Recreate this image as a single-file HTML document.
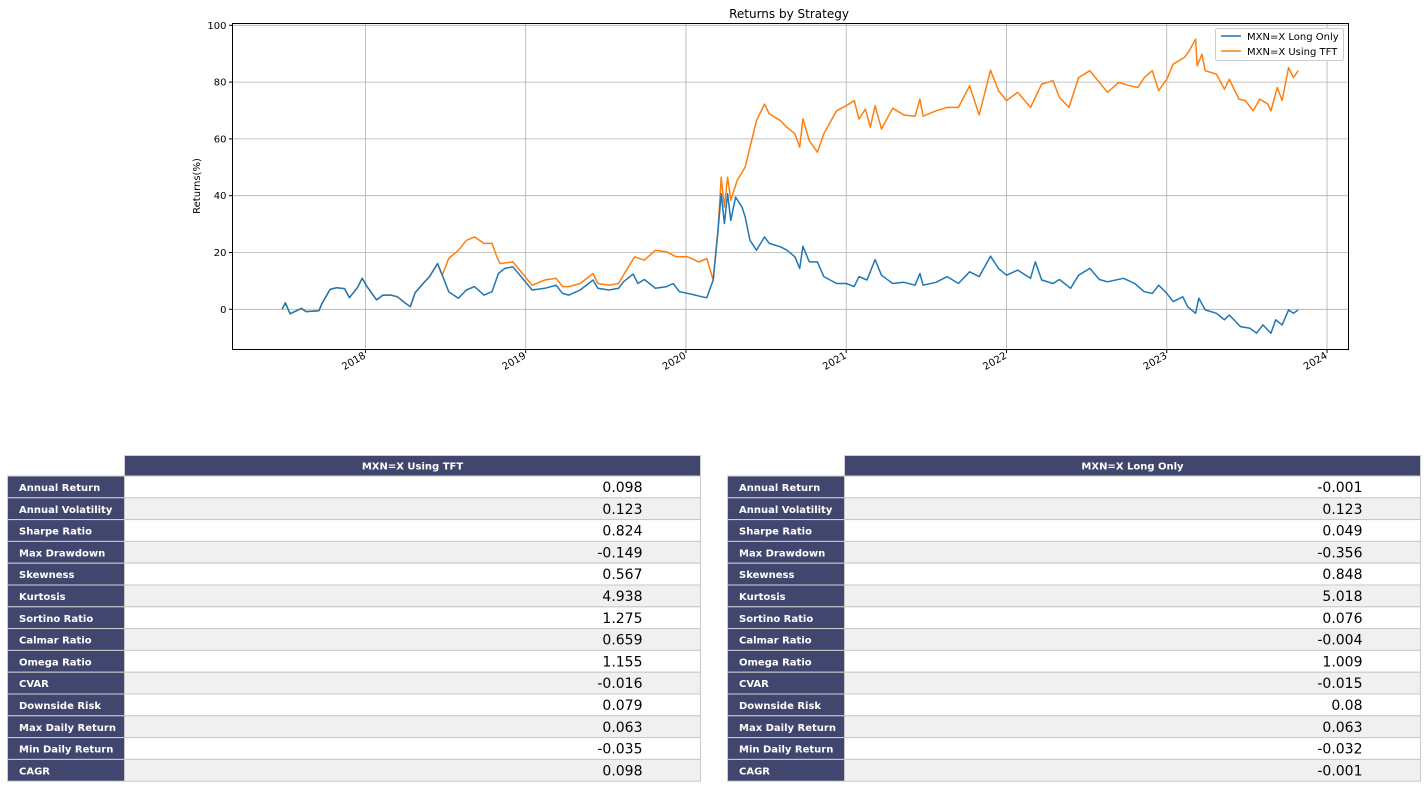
<!DOCTYPE html>
<html><head><meta charset="utf-8">
<style>
body{margin:0;background:#fff;width:1426px;height:788px;overflow:hidden;font-family:"DejaVu Sans","Liberation Sans",sans-serif;}
svg text{font-family:"DejaVu Sans","Liberation Sans",sans-serif;}
</style></head>
<body>
<svg id="chart" width="1426" height="788" xmlns="http://www.w3.org/2000/svg">
<g id="grid"></g>
<g id="series"></g>
<rect x="232.5" y="23.5" width="1116" height="326" fill="none" stroke="#000" stroke-width="1"/>
<g id="axes"></g>
<text x="789" y="18" font-size="12" text-anchor="middle">Returns by Strategy</text>
<text transform="translate(200,186) rotate(-90)" font-size="10" text-anchor="middle">Returns(%)</text>
<g>
<rect x="1215.5" y="28.5" width="128" height="32" rx="2" fill="#fff" stroke="#ccc"/>
<line x1="1221" y1="36" x2="1241" y2="36" stroke="#1f77b4" stroke-width="1.5"/>
<text x="1247" y="40" font-size="10">MXN=X Long Only</text>
<line x1="1221" y1="51" x2="1241" y2="51" stroke="#ff7f0e" stroke-width="1.5"/>
<text x="1247" y="55" font-size="10">MXN=X Using TFT</text>
</g>
<g id="tables"></g>
</svg>
<script>
// ---- chart data ----
const yTicks=[0,20,40,60,80,100];
const xTickYears=[2018,2019,2020,2021,2022,2023,2024];
const tftDates=[2017.48,2017.50,2017.53,2017.60,2017.63,2017.71,2017.73,2017.78,2017.82,2017.87,2017.90,2017.95,2017.98,2018.01,2018.07,2018.11,2018.16,2018.20,2018.25,2018.28,2018.31,2018.36,2018.40,2018.45,2018.48,2018.52,2018.58,2018.63,2018.68,2018.74,2018.79,2018.82,2018.84,2018.92,2018.98,2019.04,2019.12,2019.19,2019.23,2019.27,2019.34,2019.42,2019.45,2019.52,2019.58,2019.61,2019.68,2019.74,2019.81,2019.88,2019.94,2020.01,2020.08,2020.13,2020.17,2020.20,2020.22,2020.24,2020.26,2020.28,2020.32,2020.37,2020.40,2020.44,2020.49,2020.52,2020.59,2020.63,2020.68,2020.71,2020.73,2020.77,2020.82,2020.86,2020.94,2021.00,2021.05,2021.08,2021.12,2021.15,2021.18,2021.22,2021.29,2021.36,2021.43,2021.46,2021.48,2021.56,2021.63,2021.70,2021.77,2021.83,2021.90,2021.95,2022.00,2022.07,2022.15,2022.22,2022.29,2022.33,2022.39,2022.45,2022.52,2022.58,2022.63,2022.70,2022.77,2022.82,2022.86,2022.91,2022.95,2023.00,2023.04,2023.11,2023.14,2023.18,2023.19,2023.22,2023.24,2023.31,2023.36,2023.39,2023.45,2023.49,2023.54,2023.58,2023.63,2023.65,2023.69,2023.72,2023.76,2023.79,2023.82];
const tftValues=[0,2.3,-1.6,0.3,-0.8,-0.5,2.1,7.0,7.6,7.3,4.1,7.6,10.9,8.0,3.3,5.0,5.0,4.4,2.1,0.9,5.8,9.1,11.5,16.1,12.0,17.9,20.8,24.3,25.5,23.2,23.2,18.5,16.1,16.7,12.6,8.5,10.3,10.9,8.0,8.0,9.1,12.6,9.1,8.5,9.1,12.0,18.5,17.3,20.8,20.2,18.5,18.5,16.7,17.9,10.3,27.8,46.5,36.0,46.5,38.4,45.4,50.1,57.1,66.4,72.3,68.8,66.4,64.1,61.8,57.1,67.0,59.4,55.3,61.8,69.9,71.7,73.5,67.0,70.5,64.1,71.7,63.5,70.8,68.4,68.0,74.0,68.0,69.9,71.1,71.1,78.7,68.4,84.2,77.0,73.5,76.4,71.1,79.3,80.5,74.6,71.1,81.6,84.0,79.9,76.4,79.9,78.7,78.1,81.6,84.0,77.0,81.0,86.3,88.7,91.0,95.1,85.7,89.8,84.0,82.8,77.5,81.0,74.0,73.5,69.9,74.0,72.3,69.9,78.1,73.5,85.1,81.6,84.0];
const longDates=[2017.48,2017.50,2017.53,2017.60,2017.63,2017.71,2017.73,2017.78,2017.82,2017.87,2017.90,2017.95,2017.98,2018.01,2018.07,2018.11,2018.16,2018.20,2018.25,2018.28,2018.31,2018.36,2018.40,2018.45,2018.48,2018.52,2018.58,2018.63,2018.68,2018.74,2018.79,2018.83,2018.87,2018.92,2018.98,2019.04,2019.12,2019.19,2019.23,2019.27,2019.34,2019.42,2019.45,2019.52,2019.58,2019.61,2019.67,2019.70,2019.74,2019.81,2019.88,2019.92,2019.96,2020.03,2020.10,2020.13,2020.17,2020.20,2020.22,2020.24,2020.26,2020.28,2020.31,2020.35,2020.37,2020.40,2020.44,2020.49,2020.52,2020.59,2020.63,2020.68,2020.71,2020.73,2020.77,2020.82,2020.86,2020.94,2021.00,2021.05,2021.08,2021.13,2021.18,2021.22,2021.29,2021.36,2021.43,2021.46,2021.48,2021.56,2021.63,2021.70,2021.77,2021.83,2021.90,2021.95,2022.00,2022.07,2022.15,2022.18,2022.22,2022.29,2022.33,2022.40,2022.45,2022.52,2022.58,2022.63,2022.73,2022.80,2022.86,2022.91,2022.95,2023.00,2023.04,2023.10,2023.13,2023.18,2023.20,2023.24,2023.31,2023.36,2023.39,2023.46,2023.52,2023.56,2023.60,2023.65,2023.68,2023.72,2023.76,2023.79,2023.82];
const longValues=[0,2.3,-1.6,0.3,-0.8,-0.5,2.1,7.0,7.6,7.3,4.1,7.6,10.9,8.0,3.3,5.0,5.0,4.4,2.1,0.9,5.8,9.1,11.5,16.1,12.0,6.2,3.9,6.8,8.0,5.0,6.2,12.6,14.4,15.0,10.9,6.8,7.4,8.5,5.6,5.0,6.8,10.3,7.4,6.8,7.4,9.7,12.4,9.1,10.5,7.4,8.0,9.1,6.2,5.4,4.4,4.1,10.3,27.8,40.7,30.2,40.7,31.3,39.5,36.0,32.5,24.3,20.8,25.5,23.2,22.0,20.8,18.5,14.4,22.2,16.7,16.7,11.5,9.1,9.1,8.0,11.5,10.3,17.5,12.0,9.1,9.5,8.5,12.6,8.5,9.5,11.5,9.1,13.2,11.5,18.7,14.4,12.0,13.8,10.9,16.7,10.3,9.1,10.5,7.4,12.0,14.4,10.5,9.7,10.9,9.1,6.2,5.6,8.5,5.6,2.7,4.4,0.9,-1.4,3.9,-0.2,-1.4,-3.7,-2.0,-6.1,-6.7,-8.4,-5.5,-8.4,-3.7,-5.5,-0.2,-1.4,-0.2];

const NS="http://www.w3.org/2000/svg";
const X0=232.5,X1=1348.5,Y0=23.5,Y1=349.5;
function xScale(yr){return 365.4+(yr-2018)*160.27;}
function yScale(v){return 309.3-v*2.84;}
function mk(tag,attrs,parent){const e=document.createElementNS(NS,tag);for(const k in attrs)e.setAttribute(k,attrs[k]);parent.appendChild(e);return e;}
const grid=document.getElementById('grid'),axes=document.getElementById('axes'),series=document.getElementById('series');
yTicks.forEach(t=>{
  const y=yScale(t);
  const gl=mk('line',{x1:X0,x2:X1,y1:y,y2:y,stroke:'#b0b0b0','stroke-width':0.8},grid);
  
  
  const tk=mk('line',{x1:X0-3.5,x2:X0,y1:y,y2:y,stroke:'#000'},axes);
  
  
  const tx=mk('text',{x:X0-6,y:y+3.5,'font-size':10,'text-anchor':'end'},axes);
  tx.textContent=t;
  
  
});
xTickYears.forEach(t=>{
  const x=xScale(t);
  const gl=mk('line',{x1:x,x2:x,y1:Y0,y2:Y1,stroke:'#b0b0b0','stroke-width':0.8},grid);
  
  
  const tk=mk('line',{x1:x,x2:x,y1:Y1,y2:Y1+3.5,stroke:'#000'},axes);
  
  
  const tx=mk('text',{transform:`translate(${x+1},${Y1+8}) rotate(-30)`,'font-size':10,'text-anchor':'end'},axes);
  tx.textContent=t;
  
  
});
function line(dates,vals,color,name){
  const d=dates.map((t,i)=>(i?'L':'M')+xScale(t).toFixed(1)+','+yScale(vals[i]).toFixed(1)).join('');
  const p=mk('path',{d:d,fill:'none',stroke:color,'stroke-width':1.5,'stroke-linejoin':'round'},series);
  
  
}
line(tftDates,tftValues,'#ff7f0e','tft-line');
line(longDates,longValues,'#1f77b4','long-only-line');

// ---- tables ----
const metrics=['Annual Return','Annual Volatility','Sharpe Ratio','Max Drawdown','Skewness','Kurtosis','Sortino Ratio','Calmar Ratio','Omega Ratio','CVAR','Downside Risk','Max Daily Return','Min Daily Return','CAGR'];
const tftStats=['0.098','0.123','0.824','-0.149','0.567','4.938','1.275','0.659','1.155','-0.016','0.079','0.063','-0.035','0.098'];
const longStats=['-0.001','0.123','0.049','-0.356','0.848','5.018','0.076','-0.004','1.009','-0.015','0.08','0.063','-0.032','-0.001'];
const tables=document.getElementById('tables');
function table(x0,title,vals,name){
  const g=mk('g',{},tables);
  
  
  const lw=117,vw=576,top=455.5,hh=20.5,rh=21.8;
  const h=mk('rect',{x:x0+lw,y:top,width:vw,height:hh,fill:'#40466e',stroke:'#d0d0d0'},g);
  
  
  const ht=mk('text',{x:x0+lw+vw/2,y:top+14,'font-size':10,'font-weight':'bold',fill:'#fff','text-anchor':'middle'},g);
  ht.textContent=title;
  
  
  metrics.forEach((m,i)=>{
    const y=top+hh+i*rh;
    const lc=mk('rect',{x:x0,y:y,width:lw,height:rh,fill:'#40466e',stroke:'#d0d0d0'},g);
    
    
    const lt=mk('text',{x:x0+11.5,y:y+15,'font-size':10,'font-weight':'bold',fill:'#fff'},g);
    lt.textContent=m;
    
    
    const vc=mk('rect',{x:x0+lw,y:y,width:vw,height:rh,fill:i%2?'#f0f0f0':'#fff',stroke:'#c8c8c8'},g);
    
    
    const vt=mk('text',{x:x0+lw+vw-58,y:y+16,'font-size':14,'text-anchor':'end',fill:'#000'},g);
    vt.textContent=vals[i];
    
    
  });
}
table(7.5,'MXN=X Using TFT',tftStats,'tft-stats-table');
table(727.5,'MXN=X Long Only',longStats,'long-only-stats-table');
</script>
</body></html>
